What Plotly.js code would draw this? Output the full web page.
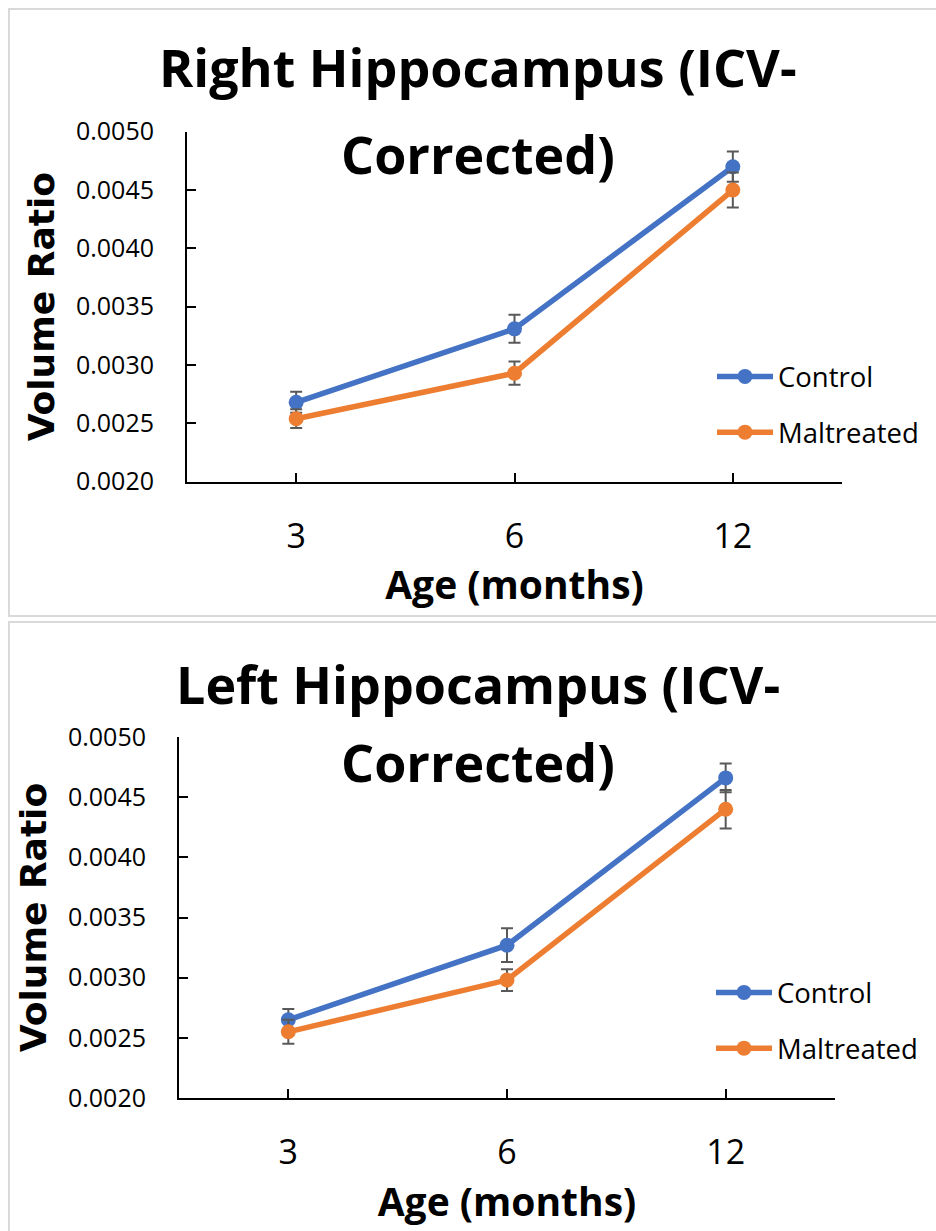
<!DOCTYPE html>
<html>
<head>
<meta charset="utf-8">
<script src="https://cdn.plot.ly/plotly-3.0.1.min.js"></script>
<style>
  html, body { margin: 0; padding: 0; background: #fff; }
  #chart { width: 936px; height: 1231px; }
</style>
</head>
<body>
<div id="chart"></div>
<script>
// Age groups (months)
const ages = ['3', '6', '12'];

// Right hippocampus, ICV-corrected volume ratio: group means and error (SEM)
const rightControl = [0.00268, 0.00331, 0.00470];
const rightControlErr = [0.00009, 0.00012, 0.00013];
const rightMaltreated = [0.00254, 0.00293, 0.00450];
const rightMaltreatedErr = [0.00008, 0.00010, 0.00015];

// Left hippocampus, ICV-corrected volume ratio
const leftControl = [0.00265, 0.00327, 0.00466];
const leftControlErr = [0.00009, 0.00014, 0.00012];
const leftMaltreated = [0.00255, 0.00298, 0.00440];
const leftMaltreatedErr = [0.00010, 0.00009, 0.00016];

const seriesNames = ['Control', 'Maltreated'];
const panelTitles = [
  ['Right Hippocampus (ICV-', 'Corrected)'],
  ['Left Hippocampus (ICV-', 'Corrected)']
];
const xTitle = 'Age (months)';
const yTitle = 'Volume Ratio';

// ---- styling ----
const W = 936, H = 1231;
const px = v => v / W;          // pixel -> paper x
const py = v => 1 - v / H;      // pixel -> paper y
const BLUE = '#4472C4';
const ORANGE = '#ED7D31';
const ERR = '#595959';
const SANS = 'Open Sans, sans-serif';
const xIdx = ages.map((_, i) => i);

function series(name, y, err, color, xa, ya, legend) {
  return {
    type: 'scatter', mode: 'lines+markers', name: name,
    x: xIdx, y: y, xaxis: xa, yaxis: ya, legend: legend,
    legendgroup: legend + name,
    line: { color: color, width: 5.5 },
    marker: { color: color, size: 15 },
    error_y: { type: 'data', array: err, visible: true, color: ERR, thickness: 2, width: 6 }
  };
}

const data = [
  series(seriesNames[0], rightControl, rightControlErr, BLUE, 'x', 'y', 'legend'),
  series(seriesNames[1], rightMaltreated, rightMaltreatedErr, ORANGE, 'x', 'y', 'legend'),
  series(seriesNames[0], leftControl, leftControlErr, BLUE, 'x2', 'y2', 'legend2'),
  series(seriesNames[1], leftMaltreated, leftMaltreatedErr, ORANGE, 'x2', 'y2', 'legend2')
];

function xAxis(domain, anchor) {
  return {
    domain: domain, anchor: anchor,
    range: [-0.5, ages.length - 0.5],
    tickmode: 'array',
    tickvals: xIdx.concat([ages.length - 0.5]),
    ticktext: ages.concat(['']),
    ticks: 'inside', ticklen: 9, tickwidth: 2, tickcolor: '#000',
    showline: true, linecolor: '#000', linewidth: 2,
    showgrid: false, zeroline: false,
    tickfont: { family: SANS, size: 34, color: '#000' },
    ticklabelstandoff: 23,
    title: { text: xTitle, font: { family: SANS, size: 39, weight: 700, color: '#000' }, standoff: 10 },
    fixedrange: true
  };
}

function yAxis(domain, anchor) {
  return {
    domain: domain, anchor: anchor,
    range: [0.0020, 0.0050], tick0: 0.0020, dtick: 0.0005, tickformat: '.4f',
    ticks: 'inside', ticklen: 9, tickwidth: 2, tickcolor: '#000',
    showline: true, linecolor: '#000', linewidth: 2,
    showgrid: false, zeroline: false,
    tickfont: { family: SANS, size: 25, color: '#000' },
    ticklabelstandoff: 26,
    title: { text: yTitle, font: { family: 'DejaVu Sans, sans-serif', size: 36, weight: 700, color: '#000' }, standoff: 10 },
    fixedrange: true
  };
}

function legendAt(x, y) {
  return {
    x: px(x), y: py(y), xanchor: 'left', yanchor: 'top',
    bgcolor: 'rgba(0,0,0,0)', borderwidth: 0,
    font: { family: SANS, size: 27.5, color: '#000' },
    traceorder: 'grouped', tracegroupgap: 17, itemwidth: 56
  };
}

function titleLines(lines, cx, y1, y2) {
  return lines.map((t, i) => ({
    text: t, xref: 'paper', yref: 'paper',
    x: px(cx), y: py(i === 0 ? y1 : y2),
    xanchor: 'center', yanchor: 'middle', showarrow: false,
    font: { family: SANS, size: 52, weight: 700, color: '#000' }
  }));
}

function panelBox(top, bottom) {
  return {
    type: 'rect', xref: 'paper', yref: 'paper', layer: 'below',
    x0: px(9), x1: px(W + 20), y0: py(top), y1: py(bottom),
    line: { color: '#d9d9d9', width: 2 }, fillcolor: 'rgba(0,0,0,0)'
  };
}

const layout = {
  width: W, height: H,
  margin: { l: 0, r: 0, t: 0, b: 0 },
  paper_bgcolor: '#fff', plot_bgcolor: 'rgba(0,0,0,0)',
  showlegend: true,
  xaxis: xAxis([px(187), px(842)], 'y'),
  yaxis: yAxis([py(481.7), py(131.7)], 'x'),
  xaxis2: xAxis([px(179), px(835)], 'y2'),
  yaxis2: yAxis([py(1098), py(737)], 'x2'),
  legend: legendAt(712, 352),
  legend2: legendAt(711, 968),
  annotations: titleLines(panelTitles[0], 478, 66.7, 154)
    .concat(titleLines(panelTitles[1], 478, 683, 761)),
  shapes: [
    panelBox(9, 616),
    panelBox(622, H + 20),
    // heavier stroke on the right part of the upper x axis
    { type: 'line', xref: 'x', yref: 'paper', x0: 1, x1: ages.length - 0.5,
      y0: py(483), y1: py(483), line: { color: '#000', width: 2 } }
  ]
};

Plotly.newPlot('chart', data, layout, { staticPlot: true, displayModeBar: false });
</script>
</body>
</html>
